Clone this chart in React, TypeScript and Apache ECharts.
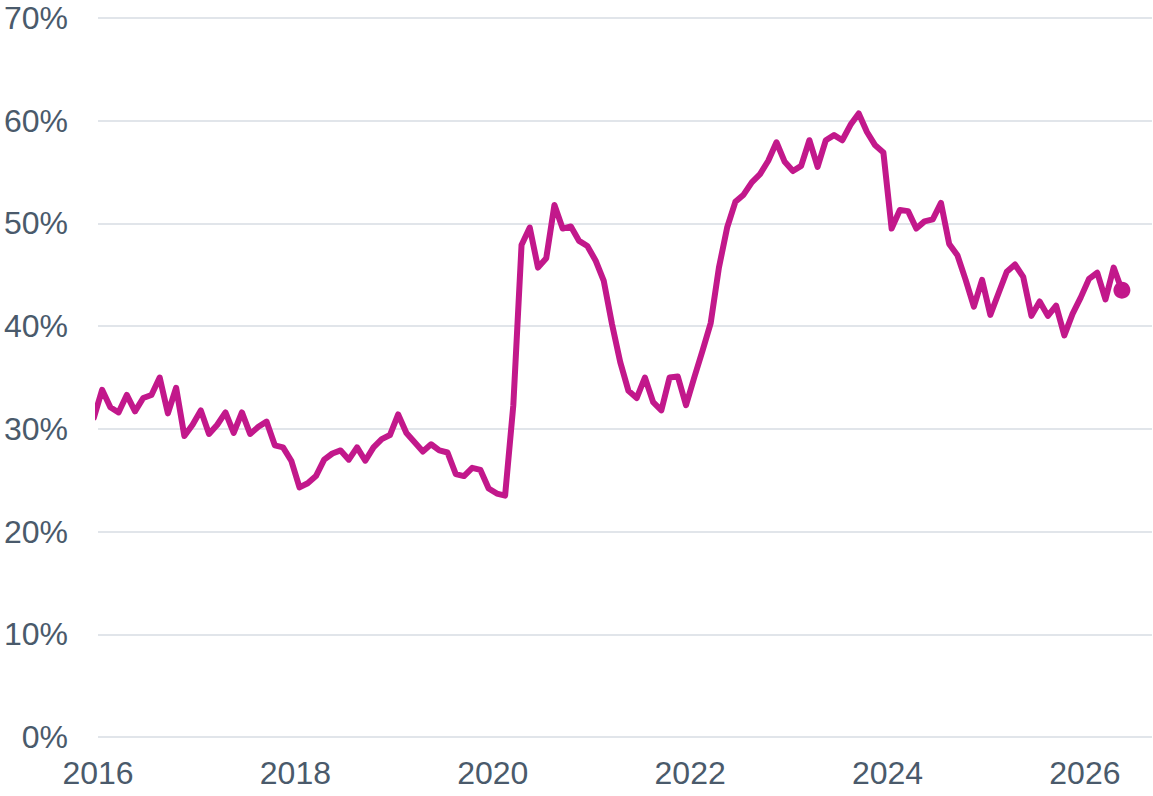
import React, { useEffect, useRef } from "react";
import * as echarts from "echarts";

const startYear = 2015;
const startMonth = 12;

const values: number[] = [
  31.1,
  33.8, 32.1, 31.6, 33.3, 31.7, 33.0, 33.3, 35.0, 31.5, 34.0, 29.3, 30.4,
  31.8, 29.5, 30.4, 31.6, 29.6, 31.6, 29.5, 30.2, 30.7, 28.4, 28.2, 26.9,
  24.3, 24.7, 25.4, 27.0, 27.6, 27.9, 27.0, 28.2, 26.9, 28.2, 29.0, 29.4,
  31.4, 29.6, 28.7, 27.8, 28.5, 27.9, 27.7, 25.6, 25.4, 26.2, 26.0, 24.2,
  23.7, 23.5, 32.3, 47.9, 49.6, 45.7, 46.6, 51.8, 49.5, 49.7, 48.3, 47.8,
  46.4, 44.4, 40.2, 36.5, 33.7, 33.0, 35.0, 32.6, 31.8, 35.0, 35.1, 32.3,
  35.0, 37.6, 40.3, 45.7, 49.6, 52.1, 52.8, 54.0, 54.8, 56.1, 57.9, 56.0,
  55.1, 55.6, 58.1, 55.5, 58.1, 58.6, 58.1, 59.6, 60.7, 58.9, 57.6, 56.9,
  49.5, 51.3, 51.2, 49.5, 50.2, 50.4, 52.0, 48.0, 46.9, 44.5, 41.9, 44.5,
  41.1, 43.2, 45.3, 46.0, 44.8, 41.0, 42.4, 41.0, 42.0, 39.1, 41.2, 42.8,
  44.6, 45.2, 42.6, 45.7, 43.5,
];

const months: string[] = values.map((_, i) => {
  const total = startYear * 12 + (startMonth - 1) + i;
  const y = Math.floor(total / 12);
  const m = (total % 12) + 1;
  return `${y}-${String(m).padStart(2, "0")}`;
});

const yTicks = [0, 10, 20, 30, 40, 50, 60, 70];
const xTickYears = [2016, 2018, 2020, 2022, 2024, 2026];

const toDecimal = (s: string) => {
  const [y, m] = s.split("-").map(Number);
  return y + (m - 0.5) / 12;
};

export default function App() {
  const ref = useRef<HTMLDivElement>(null);
  useEffect(() => {
    if (!ref.current) return;
    const chart = echarts.init(ref.current, undefined, { renderer: "svg" });
    const lineData = months.map((m, i) => [toDecimal(m), values[i]]);
    const last = lineData[lineData.length - 1];
    const textColor = "#4a5a6b";
    const font = "Liberation Sans, Arial, sans-serif";
    chart.setOption({
      animation: false,
      backgroundColor: "#ffffff",
      grid: { left: 98, right: 1, top: 18, bottom: 59 },
      xAxis: {
        type: "value",
        min: xTickYears[0],
        max: 2026.68,
        interval: 2,
        axisLine: { show: false },
        axisTick: { show: false },
        splitLine: { show: false },
        axisLabel: {
          color: textColor,
          fontSize: 32,
          fontFamily: font,
          margin: 20,
          showMaxLabel: false,
          formatter: (v: number) => (xTickYears.includes(Math.round(v)) ? String(Math.round(v)) : ""),
        },
      },
      yAxis: {
        type: "value",
        min: yTicks[0],
        max: yTicks[yTicks.length - 1],
        interval: 10,
        axisLine: { show: false },
        axisTick: { show: false },
        splitLine: { show: true, lineStyle: { color: "#e1e5ea", width: 2 } },
        axisLabel: {
          color: textColor,
          fontSize: 32,
          fontFamily: font,
          margin: 30,
          formatter: "{value}%",
        },
      },
      series: [
        {
          type: "line",
          data: lineData,
          showSymbol: false,
          symbol: "none",
          clip: true,
          lineStyle: { color: "#c2188b", width: 6, join: "round", cap: "round" },
        },
        {
          type: "scatter",
          data: [last],
          symbol: "circle",
          symbolSize: 17,
          itemStyle: { color: "#c2188b", opacity: 1 },
        },
      ],
    });
    return () => chart.dispose();
  }, []);
  return (
    <div
      ref={ref}
      style={{ position: "fixed", left: 0, top: 0, width: 1153, height: 796, background: "#fff" }}
    />
  );
}
